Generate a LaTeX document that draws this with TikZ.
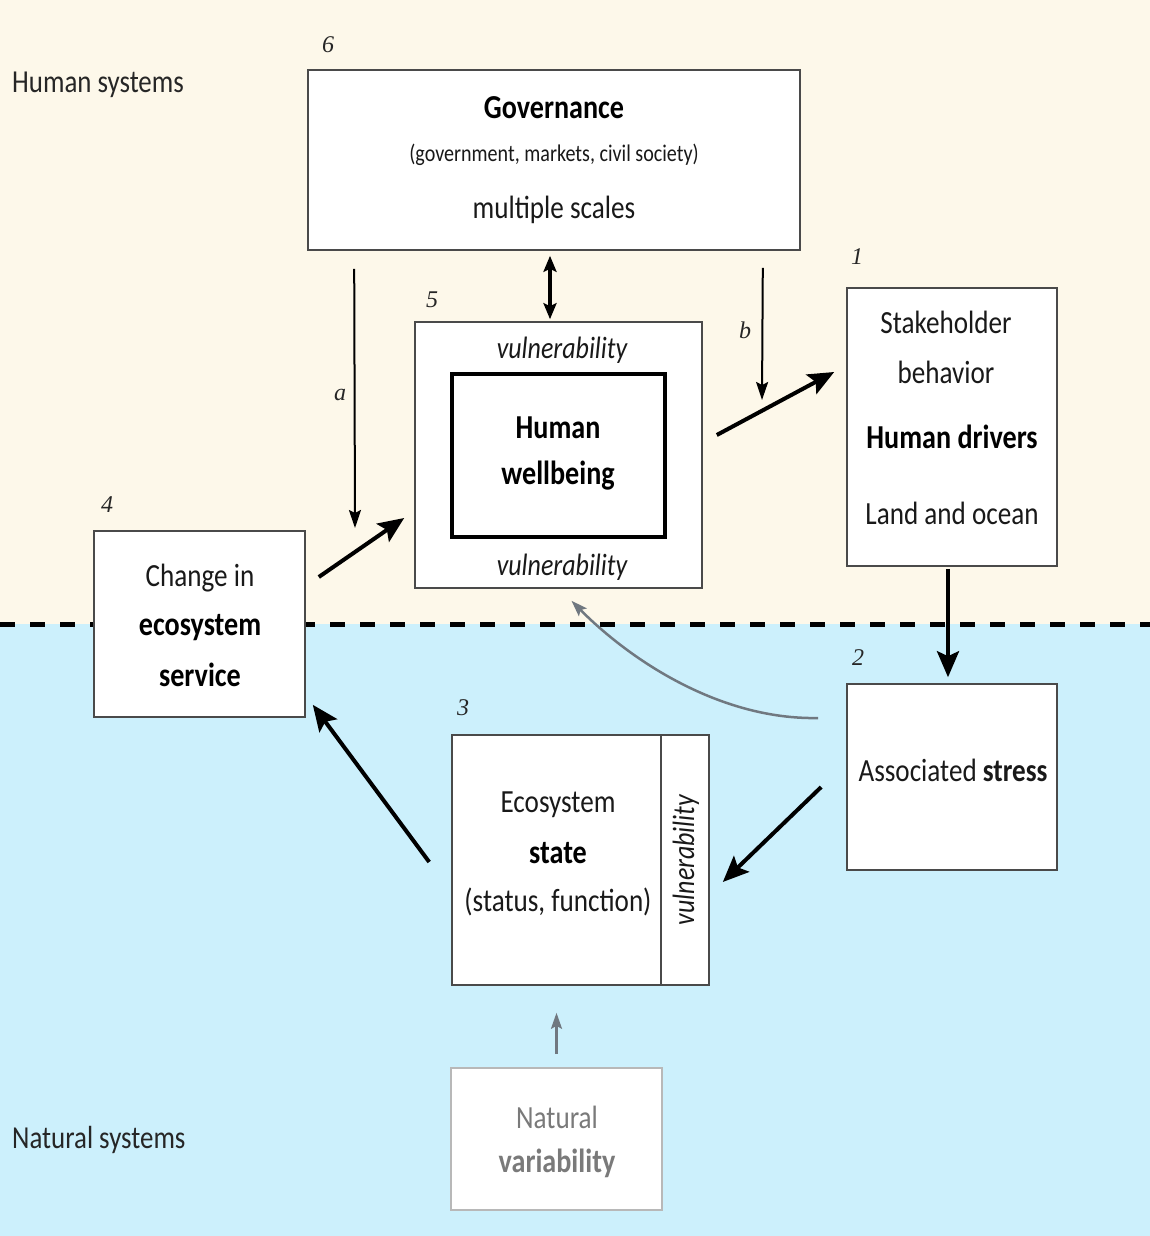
\documentclass[tikz,border=0pt]{standalone}
\usepackage{fontspec}
\setmainfont{Carlito}[FakeStretch=0.84]
\newfontfamily\numfont{Liberation Serif}
\usetikzlibrary{arrows.meta,calc}
\definecolor{cream}{HTML}{FDF8EA}
\definecolor{skyb}{HTML}{CCF0FC}
\definecolor{boxline}{HTML}{4A4A4A}
\definecolor{grayarrow}{HTML}{707880}
\definecolor{lightbox}{HTML}{B8B8B8}
\definecolor{graytext}{HTML}{7A7A7A}
\tikzset{
  box/.style={draw=boxline, line width=1.6pt, fill=white, inner sep=0pt},
  txt/.style={inner sep=0pt, font=\fontsize{32.3}{35}\selectfont, text=black!90},
  txtb/.style={inner sep=0pt, font=\fontsize{33.5}{36}\selectfont\bfseries},
  vuln/.style={inner sep=0pt, font=\fontsize{30.9}{33}\selectfont\itshape, text=black!90},
  numlab/.style={inner sep=0pt, font=\fontsize{24}{26}\selectfont\numfont\itshape, text=black!85},
  sidelab/.style={inner sep=0pt, anchor=west, font=\fontsize{32}{35}\selectfont, text=black!85},
  thickarrow/.style={line width=4pt, -{Stealth[length=26pt,width=22pt,inset=5pt]}},
  thinarrow/.style={line width=2pt, -{Stealth[length=18pt,width=12pt,inset=3pt]}},
  grayarrow/.style={draw=grayarrow, line width=2.5pt, -{Stealth[length=16pt,width=11pt,inset=3pt]}}
}
\begin{document}
\begin{tikzpicture}[x=1pt,y=-1pt]
\useasboundingbox (0,0) rectangle (1150,1236);
\fill[cream] (0,0) rectangle (1150,624);
\fill[skyb] (0,624) rectangle (1150,1236);
\draw[line width=5pt, dash pattern=on 15pt off 15pt] (0,624) -- (1150,624);

\node[sidelab] (hsys) at (12,85) {Human systems};
\node[sidelab] (nsys) at (12,1140) {Natural systems};

% boxes
\node[box, minimum width=492, minimum height=180] (gov) at (554,160) {};
\node[box, minimum width=287, minimum height=266] (hw) at (558.5,455) {};
\node[draw=black, line width=4pt, fill=white, minimum width=213, minimum height=163, inner sep=0pt] (hwin) at (558.5,455.5) {};
\node[box, minimum width=210, minimum height=278] (sh) at (952,427) {};
\node[box, minimum width=211, minimum height=186] (svc) at (199.5,624) {};
\node[box, minimum width=210, minimum height=186] (st) at (952,777) {};
\node[box, minimum width=257, minimum height=250] (es) at (580.5,860) {};
\draw[boxline, line width=1.6pt] (661,735) coordinate (div1) -- (661,985) coordinate (div2);
\node[box, draw=lightbox, minimum width=211, minimum height=142] (nv) at (556.5,1139) {};

% numbers
\node[numlab] (n6) at (328,45) {6};
\node[numlab] (n5) at (432,300) {5};
\node[numlab] (n1) at (857,257) {1};
\node[numlab] (n4) at (107,505) {4};
\node[numlab] (n3) at (463,708) {3};
\node[numlab] (n2) at (858,658) {2};
\node[numlab] (la) at (340,395) {a};
\node[numlab] (lb) at (745,330) {b};

% governance text
\node[txtb] (g1) at (554,108) {Governance};
\node[txt, font=\fontsize{23.9}{26}\selectfont] (g2) at (554,155) {(government, markets, civil society)};
\node[txt] (g3) at (554,210) {multiple scales};

% human wellbeing
\node[vuln] (v1) at (562,350) {vulnerability};
\node[txtb] (h1) at (558,428) {Human};
\node[txtb] (h2) at (558,476) {wellbeing};
\node[vuln] (v2) at (562,567) {vulnerability};

% stakeholder
\node[txt] (s1) at (946,322) {Stakeholder};
\node[txt] (s2) at (946,372) {behavior};
\node[txtb] (s3) at (952,437) {Human drivers};
\node[txt] (s4) at (952,513) {Land and ocean};

% service
\node[txt] (c1) at (200,578) {Change in};
\node[txtb] (c2) at (200,628) {ecosystem};
\node[txtb] (c3) at (200,675) {service};

% stress
\node[txt] (a1) at (953,770) {Associated \textbf{stress}};

% ecosystem state
\node[txt] (e1) at (558,805) {Ecosystem};
\node[txtb] (e2) at (558,853) {state};
\node[txt] (e3) at (558,902) {(status, function)};
\node[vuln, rotate=90] (v3) at (686,860) {vulnerability};

% natural variability
\node[txt, text=graytext] (nv1) at (557,1117) {Natural};
\node[txtb, text=graytext] (nv2) at (557,1163) {variability};

% connectors
\coordinate (aend) at (355,528);
\coordinate (bend) at (762,400);
\draw[thinarrow] ($(gov.south west)+(47,18)$) -- (aend);
\draw[thinarrow] ($(gov.south east)+(-38,17)$) -- (bend);
\draw[line width=3.5pt, {Stealth[length=16pt,width=13pt,inset=3pt]}-{Stealth[length=16pt,width=13pt,inset=3pt]}] ($(gov.south)+(-4,5)$) -- ($(hw.north)+(-8.5,-2)$);
\draw[thickarrow] ($(hw.east)+(14,-20)$) -- ($(sh.west)+(-12,-55)$);
\draw[thickarrow] ($(svc.east)+(13,-47)$) -- ($(hw.west)+(-10,63)$);
\draw[thickarrow] ($(sh.south)+(-4,2)$) -- ($(st.north)+(-4,-6)$);
\draw[thickarrow] ($(st.west)+(-25,10)$) -- ($(es.east)+(13,22)$);
\draw[thickarrow] ($(es.west)+(-22,2)$) -- ($(svc.south east)+(7,-13)$);
\draw[grayarrow] ($(st.west)+(-28,-59)$) .. controls (720,720) and (630,660) .. ($(hw.south)+(13,12)$);
\draw[grayarrow] ($(nv.north)+(0,-13)$) -- ($(es.south)+(-24,27)$);
\end{tikzpicture}
\end{document}
